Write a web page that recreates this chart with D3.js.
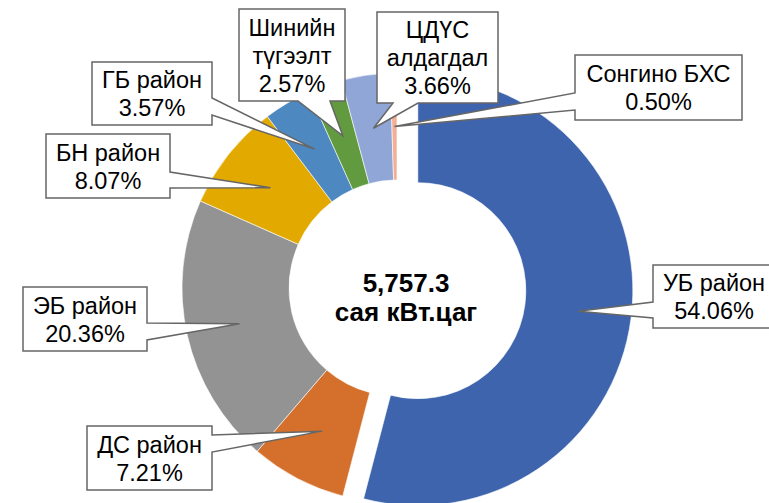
<!DOCTYPE html>
<html>
<head>
<meta charset="utf-8">
<script src="https://cdn.jsdelivr.net/npm/d3@7"></script>
<style>
  body { margin: 0; background: #fff; }
  text { font-family: "Liberation Sans", Arial, sans-serif; }
</style>
</head>
<body>
<svg id="drawing_region"></svg>
<script>
// slices, clockwise from 12 o'clock
var names = ["УБ район", "ДС район", "ЭБ район", "БН район", "ГБ район", "Шинийн түгээлт", "ЦДҮС алдагдал", "Сонгино БХС"];
var shares = [54.06, 7.21, 20.36, 8.07, 3.57, 2.57, 3.66, 0.50];
var colors = ["#3d64ad", "#d4702c", "#939393", "#e2aa00", "#4d88c0", "#619a3f", "#8fa6d6", "#f3ae95"];
var labelLines = [["УБ район"], ["ДС район"], ["ЭБ район"], ["БН район"], ["ГБ район"], ["Шинийн", "түгээлт"], ["ЦДҮС", "алдагдал"], ["Сонгино БХС"]];
var centerLines = ["5,757.3", "сая кВт.цаг"];

// callout box layout (x, y, w, h, side holding the wedge, wedge base along that side)
var boxes = [
  {x: 653, y: 265, w: 122, h: 63, side: "left", b0: 302, b1: 318},
  {x: 87, y: 426, w: 125, h: 64, side: "right", b0: 435, b1: 452},
  {x: 23, y: 287, w: 124, h: 64, side: "right", b0: 323, b1: 340},
  {x: 46, y: 134, w: 124, h: 64, side: "right", b0: 172, b1: 188},
  {x: 92, y: 62, w: 120, h: 63, side: "right", b0: 98, b1: 115},
  {x: 239, y: 9, w: 106, h: 92, side: "bottom", b0: 298, b1: 330},
  {x: 377, y: 12, w: 121, h: 91, side: "bottom", b0: 393, b1: 418},
  {x: 575, y: 55, w: 167, h: 65, side: "left", b0: 93, b1: 110}
];

var config = {
  width: 769, height: 503,
  cx: 397, cy: 288,
  inner: 108, outer: 215,
  explode: 21,
  fontSize: 23.5, lineHeight: 28
};

var svg = d3.select("#drawing_region")
  .attr("width", config.width)
  .attr("height", config.height);

var chart = svg.append("g")
  .attr("transform", `translate(${config.cx}, ${config.cy})`);

var pie = d3.pie().sort(null).value(d => d);
var arcs = pie(shares);

var arc = d3.arc()
  .innerRadius(config.inner)
  .outerRadius(config.outer);

// only the first slice is pulled out
function offset(d, i) {
  if (i != 0) return [0, 0];
  var a = (d.startAngle + d.endAngle) / 2;
  return [config.explode * Math.sin(a), -config.explode * Math.cos(a)];
}

chart.selectAll("path.slice")
  .data(arcs)
  .join("path")
  .attr("class", "slice")
  .attr("d", arc)
  .attr("transform", (d, i) => `translate(${offset(d, i)})`)
  .attr("fill", (d, i) => colors[i])
  .attr("stroke", "#fff")
  .attr("stroke-width", 0.6);

// callout boxes with wedge pointing at slice centroid
function calloutPath(b, tip) {
  var x = b.x, y = b.y, r = b.x + b.w, bt = b.y + b.h;
  var t = `${tip[0]},${tip[1]}`;
  if (b.side == "right")
    return `M${x},${y}H${r}V${b.b0}L${t}L${r},${b.b1}V${bt}H${x}Z`;
  if (b.side == "left")
    return `M${x},${y}H${r}V${bt}H${x}V${b.b1}L${t}L${x},${b.b0}Z`;
  return `M${x},${y}H${r}V${bt}H${b.b1}L${t}L${b.b0},${bt}H${x}Z`;
}

var labels = svg.append("g");

arcs.forEach((d, i) => {
  var c = arc.centroid(d);
  var o = offset(d, i);
  var tip = [config.cx + c[0] + o[0], config.cy + c[1] + o[1]];
  var b = boxes[i];

  labels.append("path")
    .attr("d", calloutPath(b, tip))
    .attr("fill", "#fff")
    .attr("stroke", "#666")
    .attr("stroke-width", 1.5)
    .attr("stroke-linejoin", "miter");

  var lines = labelLines[i].concat([shares[i].toFixed(2) + "%"]);
  var first = b.y + b.h / 2 - (lines.length - 1) * config.lineHeight / 2 + 8.5;
  var txt = labels.append("text")
    .attr("text-anchor", "middle")
    .attr("font-size", config.fontSize)
    .attr("fill", "#000");
  lines.forEach((s, k) => {
    txt.append("tspan")
      .attr("x", b.x + b.w / 2)
      .attr("y", first + k * config.lineHeight)
      .text(s);
  });
});

// total in the hole
var center = svg.append("text")
  .attr("text-anchor", "middle")
  .attr("font-size", 26)
  .attr("font-weight", "bold")
  .attr("fill", "#000");
centerLines.forEach((s, k) => {
  center.append("tspan")
    .attr("x", 406)
    .attr("y", 292 + k * 29)
    .text(s);
});
</script>
</body>
</html>
